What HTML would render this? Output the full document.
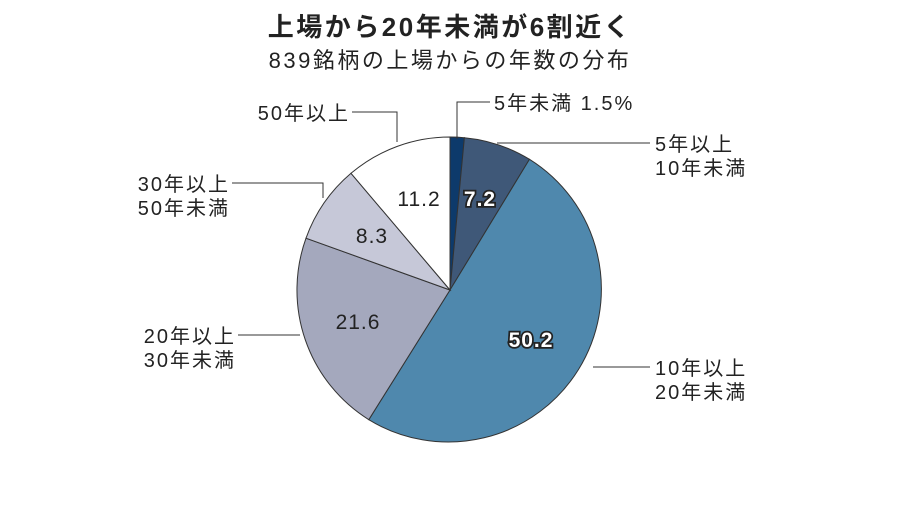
<!DOCTYPE html>
<html><head><meta charset="utf-8"><style>
body{margin:0;background:#fff;width:900px;height:504px;overflow:hidden}
text{font-family:"Liberation Sans","Noto Sans CJK JP",sans-serif;fill:#222}
text.w{fill:#fff;stroke:#222;stroke-width:3.5px;paint-order:stroke;font-weight:bold}
</style></head><body>
<svg width="900" height="504" viewBox="0 0 900 504">
<text x="450" y="36" text-anchor="middle" font-size="26" font-weight="bold" letter-spacing="2.5">上場から20年未満が6割近く</text>
<text x="450" y="68" text-anchor="middle" font-size="22" letter-spacing="2.5">839銘柄の上場からの年数の分布</text>
<g stroke="#333" stroke-width="1">
<path d="M450,290 L450,137 A153,153 0 0 1 464.4,137.7 Z" fill="#0d3a6b"/>
<path d="M450,290 L464.4,137.7 A153,153 0 0 1 529.5,159.3 Z" fill="#3f5878"/>
<path d="M450,290 L529.5,159.3 A153,153 0 0 1 368.8,419.7 Z" fill="#4f88ad"/>
<path d="M450,290 L368.8,419.7 A153,153 0 0 1 306,238.2 Z" fill="#a4a8bd"/>
<path d="M450,290 L306,238.2 A153,153 0 0 1 351,173.3 Z" fill="#c6c8d8"/>
<path d="M450,290 L351,173.3 A153,153 0 0 1 450,137 Z" fill="#fff"/>
</g>
<g stroke="#333" stroke-width="1" fill="none">
<polyline points="457,139 457,102 490,102"/>
<polyline points="497,143 650,143"/>
<polyline points="352,112 397,112 397,142"/>
<polyline points="232,183 323,183 323,198"/>
<polyline points="238,335 300,335"/>
<polyline points="593,367 650,367"/>
</g>
<g font-size="20" letter-spacing="2">
<text x="494" y="110">5年未満 1.5%</text>
<text x="655" y="151">5年以上</text>
<text x="655" y="175">10年未満</text>
<text x="350" y="120" text-anchor="end">50年以上</text>
<text x="230" y="191" text-anchor="end">30年以上</text>
<text x="230" y="215" text-anchor="end">50年未満</text>
<text x="236" y="343" text-anchor="end">20年以上</text>
<text x="236" y="367" text-anchor="end">30年未満</text>
<text x="655" y="375">10年以上</text>
<text x="655" y="399">20年未満</text>
</g>
<g font-size="21" letter-spacing="1">
<text x="419" y="206" text-anchor="middle">11.2</text>
<text x="372" y="243" text-anchor="middle">8.3</text>
<text x="358" y="329" text-anchor="middle">21.6</text>
<text class="w" x="480" y="206" text-anchor="middle">7.2</text>
<text class="w" x="531" y="347" text-anchor="middle">50.2</text>
</g>
</svg>
</body></html>
